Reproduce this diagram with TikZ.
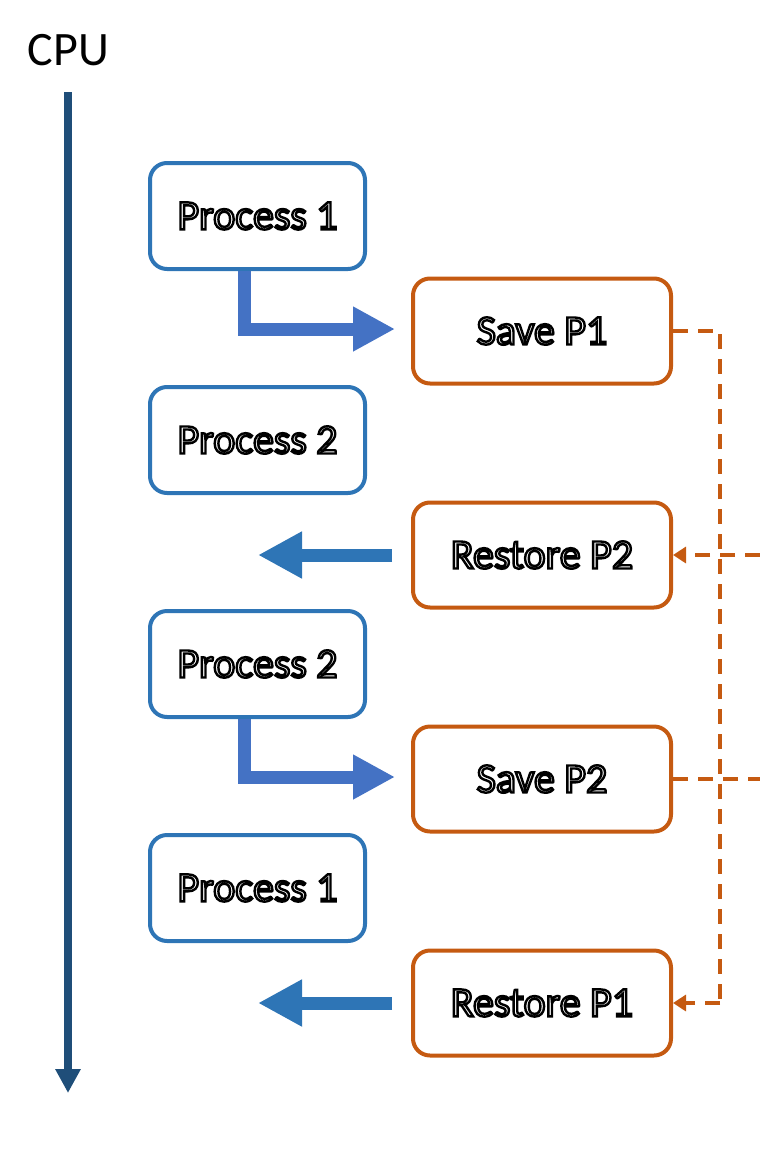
\documentclass[tikz,border=0pt]{standalone}
\usepackage{fontspec}
\setmainfont{Carlito}
\usetikzlibrary{arrows.meta}

\definecolor{procblue}{HTML}{2E75B6}
\definecolor{flowblue}{HTML}{4472C4}
\definecolor{switchorange}{HTML}{C55A11}
\definecolor{cpublue}{HTML}{1F4E79}

% hollow (stroked) lettering for the box labels
\newcommand\hollow[1]{\special{pdf:code q 1 Tr 2.4 w 0 G}#1\special{pdf:code Q}}

\tikzset{
  procbox/.style={draw=procblue, line width=4pt, fill=white, rounded corners=17pt,
    minimum width=215pt, minimum height=106pt, inner sep=0pt,
    font=\fontsize{42}{46}\selectfont},
  switchbox/.style={draw=switchorange, line width=4pt, fill=white, rounded corners=17pt,
    minimum width=258pt, minimum height=105pt, inner sep=0pt,
    font=\fontsize{42}{46}\selectfont},
  elbowarrow/.style={draw=flowblue, line width=13pt, line join=miter,
    -{Triangle[length=42pt,width=42pt]}},
  backarrow/.style={draw=procblue, line width=13pt,
    -{Triangle[length=44pt,width=44pt]}},
  cpuarrow/.style={draw=cpublue, line width=8pt,
    -{Triangle[length=24pt,width=24pt]}},
  dashlink/.style={draw=switchorange, line width=3.5pt, dash pattern=on 15pt off 10pt},
  dashtip/.style={dashlink, -{Triangle[length=13pt,width=16pt]}},
}

\begin{document}
\begin{tikzpicture}[x=1pt,y=-1pt]
  \useasboundingbox (0,0) rectangle (760,1173);

  % CPU time axis
  \node[anchor=base, font=\fontsize{48}{52}\selectfont] (cpu) at (68.5,65) {CPU};
  \coordinate (cpuTop) at (68,92);
  \coordinate (cpuEnd) at (68,1093);
  \draw[cpuarrow] (cpuTop) -- (cpuEnd);

  % processes running on the CPU
  \node[procbox] (p1)  at (257.5,216) {\hollow{Process 1}};
  \node[procbox] (p2)  at (257.5,440) {\hollow{Process 2}};
  \node[procbox] (p2b) at (257.5,664) {\hollow{Process 2}};
  \node[procbox] (p1b) at (257.5,888) {\hollow{Process 1}};

  % context switch steps
  \node[switchbox] (s1) at (542,331) {\hollow{Save P1}};
  \node[switchbox] (r2) at (542,555) {\hollow{Restore P2}};
  \node[switchbox] (s2) at (542,779) {\hollow{Save P2}};
  \node[switchbox] (r1) at (542,1003) {\hollow{Restore P1}};

  % process -> save
  \draw[elbowarrow] ([xshift=-13.5pt]p1.south) |- ([xshift=-16pt,yshift=2pt]s1.west);
  \draw[elbowarrow] ([xshift=-13.5pt]p2b.south) |- ([xshift=-16pt,yshift=2pt]s2.west);

  % restore -> next process
  \coordinate (back2) at (258,555);
  \coordinate (back1) at (258,1003);
  \draw[backarrow] ([xshift=-19pt]r2.west) -- (back2);
  \draw[backarrow] ([xshift=-19pt]r1.west) -- (back1);

  % saved state links
  \coordinate (busTop) at (720,331);
  \coordinate (busBot) at (720,1003);
  \coordinate (edgeS2) at (760,779);
  \coordinate (edgeR2) at (760,555);
  \draw[dashlink] (s1.east) -- (busTop) -- (busBot);
  \draw[dashtip] (busBot) -- (r1.east);
  \draw[dashlink] (s2.east) -- (edgeS2);
  \draw[dashtip] (edgeR2) -- (r2.east);
\end{tikzpicture}
\end{document}
